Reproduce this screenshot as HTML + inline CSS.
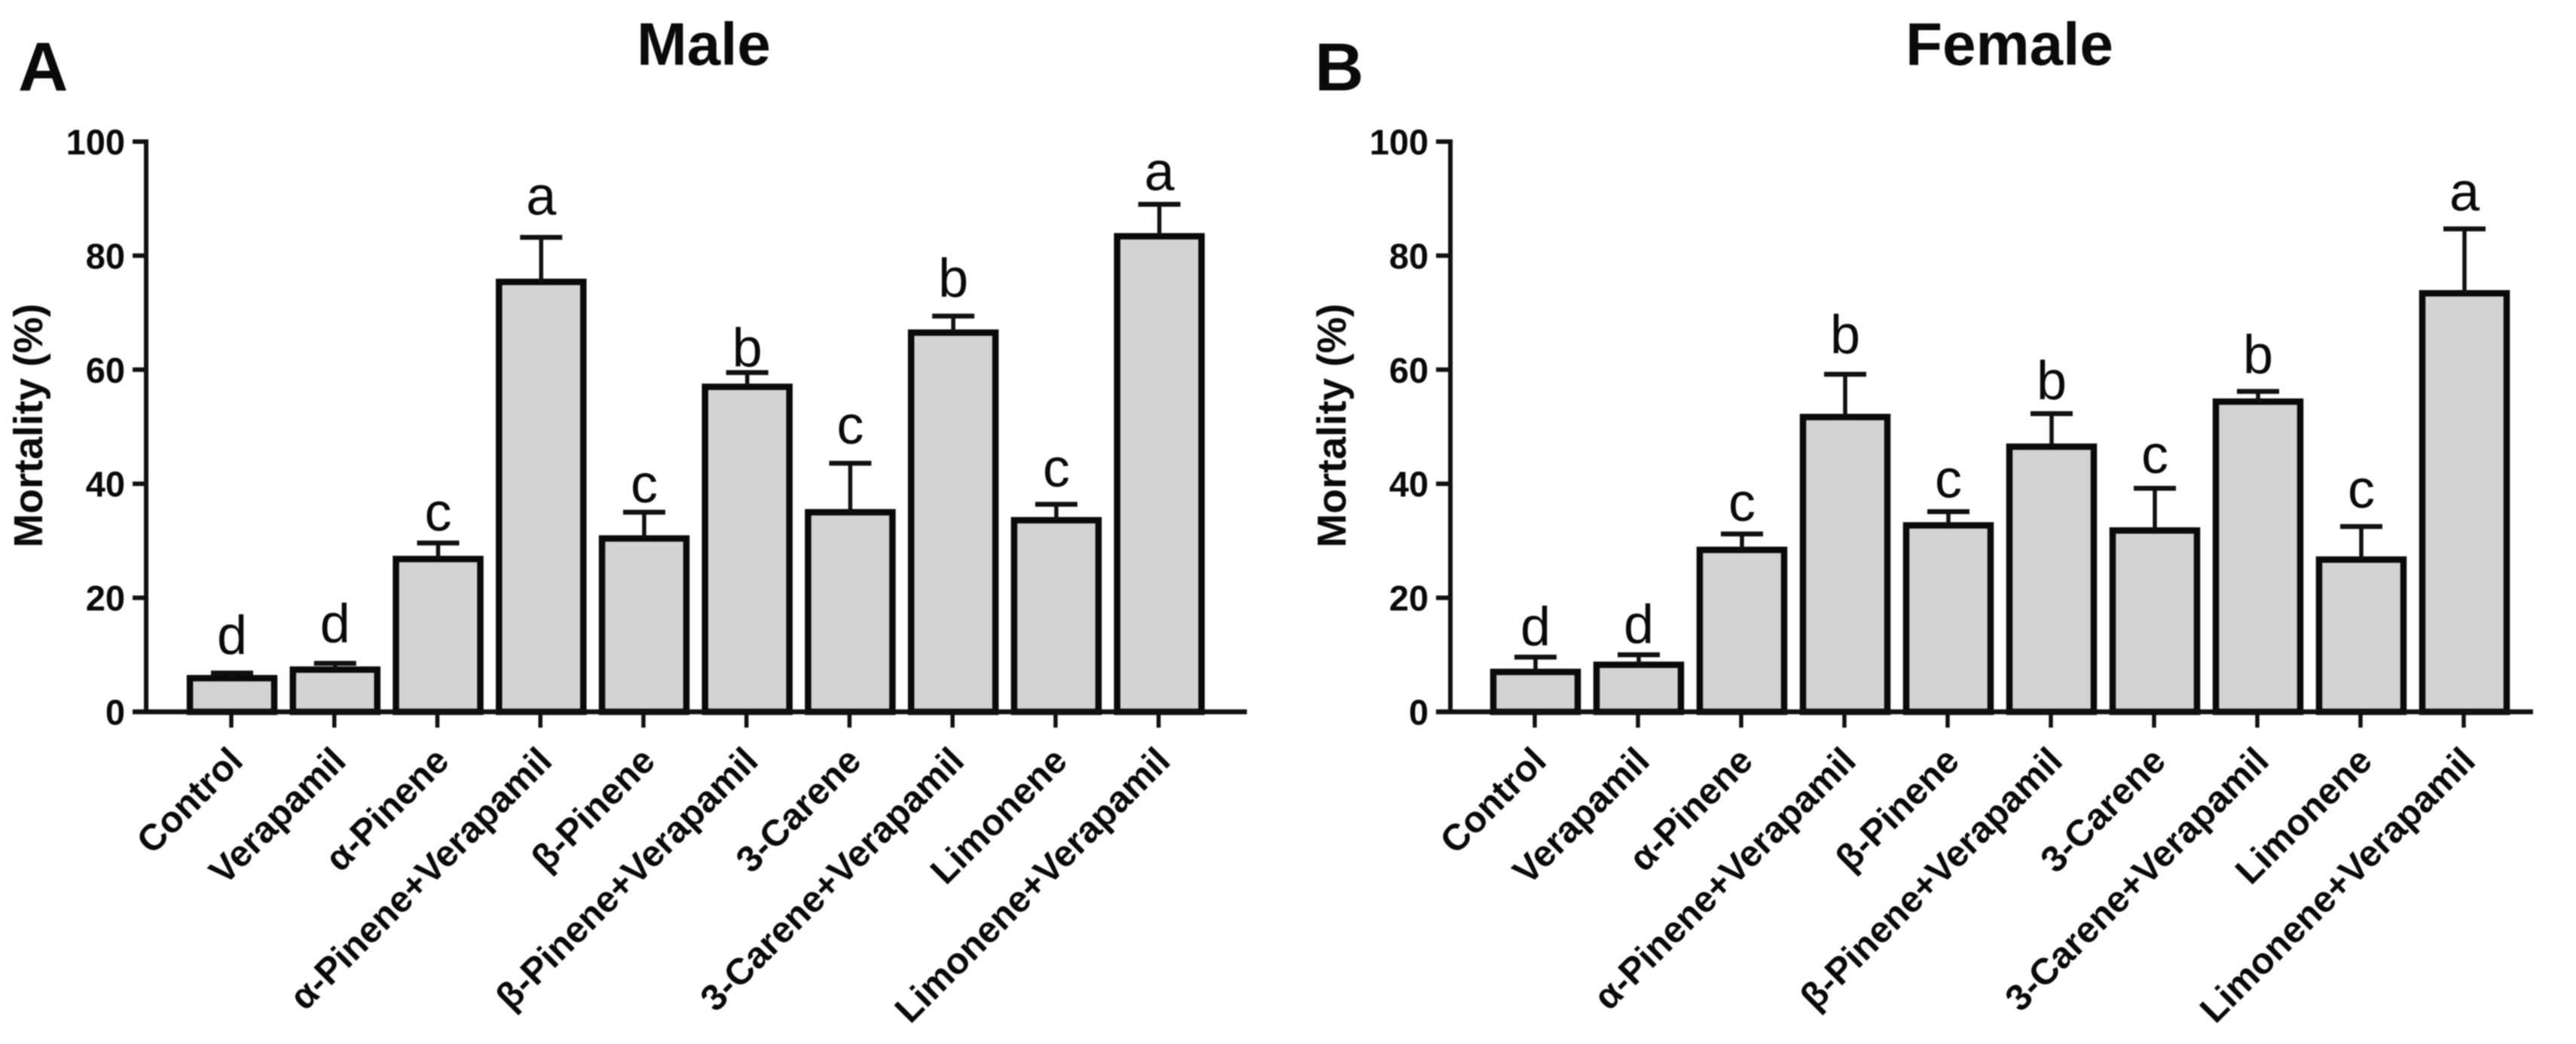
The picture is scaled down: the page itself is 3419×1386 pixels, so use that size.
<!DOCTYPE html>
<html lang="en">
<head>
<meta charset="utf-8">
<title>Mortality (%) in male and female</title>
<style>
html,body{margin:0;padding:0;background:#fff;width:3419px;height:1386px;overflow:hidden}
svg{display:block;filter:blur(0.9px)}
text{font-family:"Liberation Sans",Arial,sans-serif;fill:#0a0a0a}
</style>
</head>
<body>
<svg id="figure" xmlns="http://www.w3.org/2000/svg" width="3419" height="1386" viewBox="0 0 3419 1386"></svg>
<script>
const categories = ["Control","Verapamil","α-Pinene","α-Pinene+Verapamil","β-Pinene","β-Pinene+Verapamil","3-Carene","3-Carene+Verapamil","Limonene","Limonene+Verapamil"];
const yTicks = [0,20,40,60,80,100];

const maleMeans = [5.9,7.4,26.8,75.4,30.4,57.0,35.0,66.5,33.6,83.4];
const maleErrorTops = [6.8,8.5,29.6,83.2,35.0,59.5,43.6,69.4,36.4,89.0];
const maleLetters = ["d","d","c","a","c","b","c","b","c","a"];
const maleLetterLevels = [10.2,12.2,31.8,87.2,36.7,60.6,47.0,72.8,39.5,91.5];

const femaleMeans = [7.0,8.25,28.4,51.7,32.7,46.5,31.8,54.4,26.7,73.4];
const femaleErrorTops = [9.6,10.0,31.2,59.2,35.1,52.3,39.2,56.2,32.5,84.7];
const femaleLetters = ["d","d","c","b","c","b","c","b","c","a"];
const femaleLetterLevels = [11.7,12.1,33.5,62.9,37.6,54.8,41.9,59.4,35.8,87.9];

const svg = document.getElementById('figure');
const NS = 'http://www.w3.org/2000/svg';
const INK = '#111';

function yScale(v){ return 945 - v * 7.57; }

function makeLine(x1,y1,x2,y2,w,parent){
  const el = document.createElementNS(NS,'line');
  el.setAttribute('x1',x1);
  el.setAttribute('y1',y1);
  el.setAttribute('x2',x2);
  el.setAttribute('y2',y2);
  el.setAttribute('stroke',INK);
  el.setAttribute('stroke-width',w);
  parent.appendChild(el);
  return el;
}
function makeText(str,x,y,size,weight,anchor,parent){
  const el = document.createElementNS(NS,'text');
  el.setAttribute('x',x);
  el.setAttribute('y',y);
  el.setAttribute('font-size',size);
  el.setAttribute('font-weight',weight);
  el.setAttribute('text-anchor',anchor);
  el.textContent = str;
  parent.appendChild(el);
  return el;
}
function makeGroup(parent){
  const el = document.createElementNS(NS,'g');
  parent.appendChild(el);
  return el;
}

function drawPanel(opts, means, errorTops, letters, letterLevels){
  const xScale = i => opts.firstTick + i * opts.step;
  const panel = makeGroup(svg);
  
  

  const letterEl = makeText(opts.letter, opts.letterX, 120, opts.letterSize, 'bold', 'start', panel);
  
  

  const titleEl = makeText(opts.title, opts.titleX, 86, 80, 'bold', 'middle', panel);
  
  

  const yTitle = makeText('Mortality (%)', 0, 0, 54, 'bold', 'middle', panel);
  yTitle.setAttribute('transform', 'translate(' + opts.yTitleX + ' 565) rotate(-90)');
  
  

  categories.forEach((cat,i) => {
    const cx = xScale(i);
    const bar = document.createElementNS(NS,'rect');
    bar.setAttribute('x', cx + 1 - 56);
    bar.setAttribute('y', yScale(means[i]));
    bar.setAttribute('width', 112);
    bar.setAttribute('height', yScale(0) - yScale(means[i]));
    bar.setAttribute('fill', '#d3d3d3');
    bar.setAttribute('stroke', '#0a0a0a');
    bar.setAttribute('stroke-width', 8.5);
    
    
    panel.appendChild(bar);

    const stem = makeLine(cx + 1, yScale(means[i]), cx + 1, yScale(errorTops[i]), 5.5, panel);
    
    
    const cap = makeLine(cx + 1 - 28, yScale(errorTops[i]), cx + 1 + 28, yScale(errorTops[i]), 6.5, panel);
    
    

    const sig = makeText(letters[i], cx + 1, yScale(letterLevels[i]), 72, 'normal', 'middle', panel);
    
    

    const tick = makeLine(cx, yScale(0), cx, yScale(0) + 21, 5.5, panel);
    
    

    const lab = makeText(cat, 0, 0, 49, 'bold', 'end', panel);
    lab.setAttribute('transform', 'translate(' + (cx + 18) + ' 1013) rotate(-45)');
    
    
  });

  const yAxis = makeLine(opts.axisX, yScale(100) - 3, opts.axisX, yScale(0), 6, panel);
  
  

  const xAxis = makeLine(opts.axisLeft, yScale(0), opts.axisRight, yScale(0), 6.5, panel);
  
  

  yTicks.forEach(t => {
    const tk = makeLine(opts.axisLeft, yScale(t), opts.axisX, yScale(t), 6, panel);
    
    
    const tl = makeText(String(t), opts.axisLeft - 10, yScale(t) + 17, 47, 'bold', 'end', panel);
    
    
  });
}

drawPanel({name:'male',title:'Male',letter:'A',letterX:24,letterSize:92,titleX:934,yTitleX:56,
  firstTick:307,step:136.75,axisX:194,axisLeft:176,axisRight:1655},
  maleMeans, maleErrorTops, maleLetters, maleLetterLevels);

drawPanel({name:'female',title:'Female',letter:'B',letterX:1745,letterSize:90,titleX:2667,yTitleX:1786,
  firstTick:2037,step:137,axisX:1925,axisLeft:1906,axisRight:3362},
  femaleMeans, femaleErrorTops, femaleLetters, femaleLetterLevels);
</script>
</body>
</html>
